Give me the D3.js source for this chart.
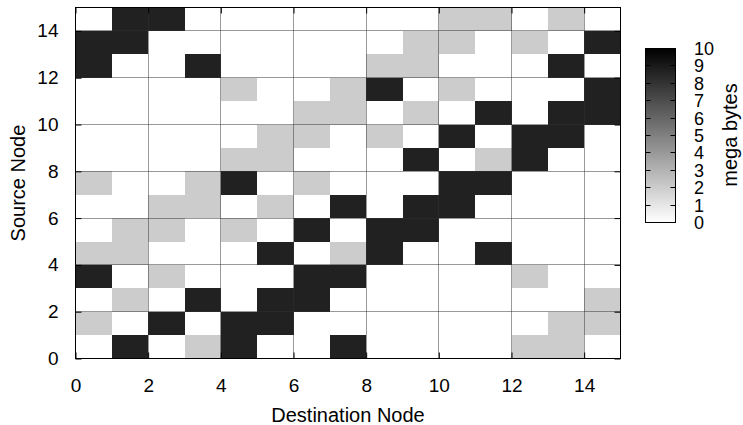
<!DOCTYPE html>
<html>
<head>
<meta charset="utf-8">
<script src="https://cdn.jsdelivr.net/npm/d3@7"></script>
<style>
  body { margin: 0; background: #fff; }
  svg { display: block; font-family: "Liberation Sans", Arial, sans-serif; }
  .tick text { font-size: 19px; fill: #000; }
  .tick line { stroke: #000; }
</style>
</head>
<body>
<svg id="chart" width="743" height="425"></svg>
<script>
// Node ids on both axes
const nodes = [0, 1, 2, 3, 4, 5, 6, 7, 8, 9, 10, 11, 12, 13, 14];
const axisTicks = [0, 2, 4, 6, 8, 10, 12, 14];
const barTicks = [0, 1, 2, 3, 4, 5, 6, 7, 8, 9, 10];

// traffic[source][destination] in mega bytes
const traffic = [
  [0, 8.7, 0, 2, 8.7, 0, 0, 8.7, 0, 0, 0, 0, 2, 2, 0],
  [2, 0, 8.7, 0, 8.7, 8.7, 0, 0, 0, 0, 0, 0, 0, 2, 2],
  [0, 2, 0, 8.7, 0, 8.7, 8.7, 0, 0, 0, 0, 0, 0, 0, 2],
  [8.7, 0, 2, 0, 0, 0, 8.7, 8.7, 0, 0, 0, 0, 2, 0, 0],
  [2, 2, 0, 0, 0, 8.7, 0, 2, 8.7, 0, 0, 8.7, 0, 0, 0],
  [0, 2, 2, 0, 2, 0, 8.7, 0, 8.7, 8.7, 0, 0, 0, 0, 0],
  [0, 0, 2, 2, 0, 2, 0, 8.7, 0, 8.7, 8.7, 0, 0, 0, 0],
  [2, 0, 0, 2, 8.7, 0, 2, 0, 0, 0, 8.7, 8.7, 0, 0, 0],
  [0, 0, 0, 0, 2, 2, 0, 0, 0, 8.7, 0, 2, 8.7, 0, 0],
  [0, 0, 0, 0, 0, 2, 2, 0, 2, 0, 8.7, 0, 8.7, 8.7, 0],
  [0, 0, 0, 0, 0, 0, 2, 2, 0, 2, 0, 8.7, 0, 8.7, 8.7],
  [0, 0, 0, 0, 2, 0, 0, 2, 8.7, 0, 2, 0, 0, 0, 8.7],
  [8.7, 0, 0, 8.7, 0, 0, 0, 0, 2, 2, 0, 0, 0, 8.7, 0],
  [8.7, 8.7, 0, 0, 0, 0, 0, 0, 0, 2, 2, 0, 2, 0, 8.7],
  [0, 8.7, 8.7, 0, 0, 0, 0, 0, 0, 0, 2, 2, 0, 2, 0]
];

const svg = d3.select('#chart');

const x = d3.scaleLinear().domain([0, 15]).range([75.5, 620.5]);
const y = d3.scaleLinear().domain([0, 15]).range([358.5, 7.5]);
const color = d3.scaleLinear().domain([0, 10]).range(['#ffffff', '#000000']);
// snap to pixel centres so 1px lines stay sharp
const px = v => Math.round(v - 0.5) + 0.5;

// flatten into cells
const cells = [];
traffic.forEach((row, src) => {
  row.forEach((v, dst) => cells.push({ src: nodes[src], dst: nodes[dst], v: v }));
});

svg.append('g')
  .selectAll('rect')
  .data(cells)
  .enter()
  .append('rect')
  .attr('x', d => x(d.dst))
  .attr('y', d => y(d.src + 1))
  .attr('width', d => x(d.dst + 1) - x(d.dst))
  .attr('height', d => y(d.src) - y(d.src + 1))
  .attr('fill', d => color(d.v))
  .attr('shape-rendering', 'crispEdges');

// dotted grid in front of the cells
const grid = svg.append('g')
  .attr('stroke', '#333')
  .attr('stroke-width', 1)
  .attr('stroke-dasharray', '1,1');
grid.selectAll('.gx')
  .data(axisTicks.filter(t => t > 0))
  .enter()
  .append('line')
  .attr('x1', d => px(x(d))).attr('x2', d => px(x(d)))
  .attr('y1', y(0)).attr('y2', y(15));
grid.selectAll('.gy')
  .data(axisTicks.filter(t => t > 0))
  .enter()
  .append('line')
  .attr('y1', d => px(y(d))).attr('y2', d => px(y(d)))
  .attr('x1', x(0)).attr('x2', x(15));

// axes with inward ticks on all four sides
const axBottom = svg.append('g')
  .attr('transform', 'translate(0,' + y(0) + ')')
  .call(d3.axisBottom(x).tickValues(axisTicks).tickSize(-6).tickPadding(20));
const axLeft = svg.append('g')
  .attr('transform', 'translate(' + x(0) + ',0)')
  .call(d3.axisLeft(y).tickValues(axisTicks).tickSize(-6).tickPadding(17));
const axTop = svg.append('g')
  .attr('transform', 'translate(0,' + y(15) + ')')
  .call(d3.axisTop(x).tickValues(axisTicks).tickSize(-6).tickFormat(''));
const axRight = svg.append('g')
  .attr('transform', 'translate(' + x(15) + ',0)')
  .call(d3.axisRight(y).tickValues(axisTicks).tickSize(-6).tickFormat(''));
[axBottom, axLeft, axTop, axRight].forEach(g => {
  g.select('.domain').remove();
  g.attr('font-family', null).attr('font-size', null);
});

svg.append('rect')
  .attr('x', x(0)).attr('y', y(15))
  .attr('width', x(15) - x(0)).attr('height', y(0) - y(15))
  .attr('fill', 'none')
  .attr('stroke', '#000');

// axis titles
svg.append('text')
  .attr('x', (x(0) + x(15)) / 2)
  .attr('y', 422)
  .attr('text-anchor', 'middle')
  .attr('font-size', 20)
  .text('Destination Node');
svg.append('text')
  .attr('transform', 'translate(25,' + (y(0) + y(15)) / 2 + ') rotate(-90)')
  .attr('text-anchor', 'middle')
  .attr('font-size', 20)
  .text('Source Node');

// colour bar
const cb = d3.scaleLinear().domain([0, 10]).range([222.5, 48.5]);
const cbX = 645.5, cbW = 30;
const grad = svg.append('defs').append('linearGradient')
  .attr('id', 'cbgrad')
  .attr('x1', 0).attr('y1', 1).attr('x2', 0).attr('y2', 0);
grad.selectAll('stop')
  .data(barTicks)
  .enter()
  .append('stop')
  .attr('offset', d => d / 10)
  .attr('stop-color', d => color(d));

svg.append('rect')
  .attr('x', cbX).attr('y', cb(10))
  .attr('width', cbW).attr('height', cb(0) - cb(10))
  .attr('fill', 'url(#cbgrad)')
  .attr('stroke', '#000');

const cbTicks = svg.append('g').attr('stroke', '#000');
cbTicks.selectAll('.l')
  .data(barTicks.slice(1, -1))
  .enter()
  .append('line')
  .attr('x1', cbX).attr('x2', cbX + 5)
  .attr('y1', d => px(cb(d))).attr('y2', d => px(cb(d)));
cbTicks.selectAll('.r')
  .data(barTicks.slice(1, -1))
  .enter()
  .append('line')
  .attr('x1', cbX + cbW - 5).attr('x2', cbX + cbW)
  .attr('y1', d => px(cb(d))).attr('y2', d => px(cb(d)));

svg.append('g')
  .selectAll('text')
  .data(barTicks)
  .enter()
  .append('text')
  .attr('x', 694)
  .attr('y', d => cb(d))
  .attr('dy', '0.36em')
  .attr('font-size', 18)
  .text(d => d);

svg.append('text')
  .attr('transform', 'translate(737,135) rotate(-90)')
  .attr('text-anchor', 'middle')
  .attr('font-size', 20)
  .text('mega bytes');
</script>
</body>
</html>
